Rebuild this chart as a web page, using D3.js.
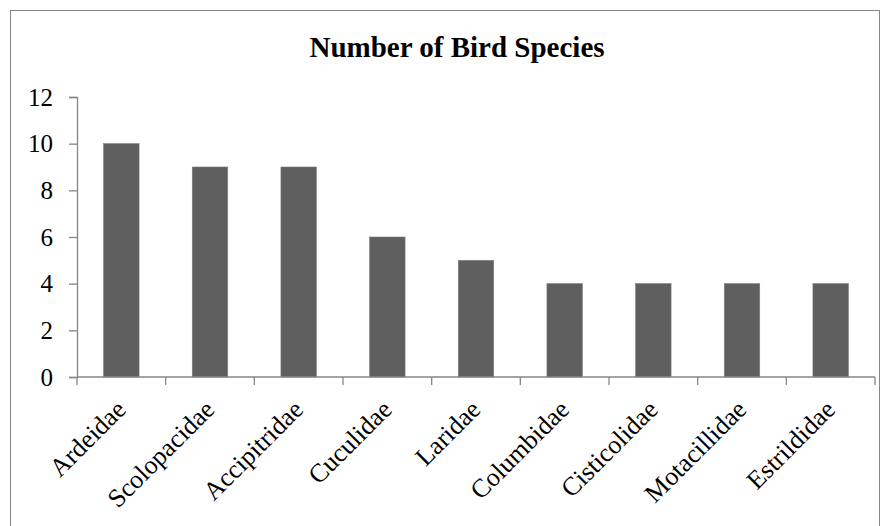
<!DOCTYPE html>
<html><head><meta charset="utf-8">
<script src="https://cdn.jsdelivr.net/npm/d3@7"></script>
<style>body{margin:0;background:#fff}</style>
</head><body>
<script>
const categories = ["Ardeidae","Scolopacidae","Accipitridae","Cuculidae","Laridae","Columbidae","Cisticolidae","Motacillidae","Estrildidae"];
const values = [10,9,9,6,5,4,4,4,4];
const yTicks = [0,2,4,6,8,10,12];
const title = "Number of Bird Species";

(function(){
const W = 891, H = 526;
const svg = d3.select("body").append("svg").attr("width", W).attr("height", H);
const font = "'Liberation Serif','Times New Roman',serif";

svg.append("rect").attr("x",10.5).attr("y",10.5).attr("width",869).attr("height",520)
  .attr("fill","#fff").attr("stroke","#868686").attr("stroke-width",1);

const mLeft = 77, mRight = 875, mTop = 97, mBottom = 377;
const x = d3.scaleBand().domain(categories).range([mLeft, mRight]).paddingInner(0.6).paddingOuter(0.3);
const y = d3.scaleLinear().domain([0,12]).range([mBottom, mTop]);

svg.append("text").attr("x", 457).attr("y", 57).attr("text-anchor","middle")
  .attr("font-family", font).attr("font-weight","bold").attr("font-size", 29).text(title);

svg.selectAll("rect.bar").data(values).join("rect").attr("class","bar")
  .attr("x",(d,i)=>x(categories[i])).attr("width",x.bandwidth())
  .attr("y",d=>y(d)).attr("height",d=>y(0)-y(d))
  .attr("fill","#5f5f5f").attr("stroke","#7a7a7a").attr("stroke-width",0.6);

const ya = svg.append("g").attr("transform",`translate(${mLeft},0)`)
  .call(d3.axisLeft(y).tickValues(yTicks).tickSize(8).tickPadding(16));
ya.select(".domain").attr("stroke","#868686").attr("stroke-width",1.3);
ya.selectAll(".tick line").attr("stroke","#868686").attr("stroke-width",1.3);
ya.selectAll("text").attr("font-family",font).attr("font-size",25).attr("fill","#000");

const step = (mRight-mLeft)/categories.length;
const xa = svg.append("g");
xa.append("line").attr("x1",mLeft).attr("x2",mRight).attr("y1",mBottom).attr("y2",mBottom)
  .attr("stroke","#868686").attr("stroke-width",1.3);
xa.selectAll("line.t").data(d3.range(categories.length+1)).join("line").attr("class","t")
  .attr("x1",i=>mLeft+i*step).attr("x2",i=>mLeft+i*step).attr("y1",mBottom).attr("y2",mBottom+8)
  .attr("stroke","#868686").attr("stroke-width",1.3);
xa.selectAll("text").data(categories).join("text")
  .attr("transform",d=>`translate(${x(d)+x.bandwidth()/2+6},${mBottom+34}) rotate(-45)`)
  .attr("text-anchor","end").attr("font-family",font).attr("font-size",26).attr("fill","#000")
  .text(d=>d);
})();
</script>
</body></html>
